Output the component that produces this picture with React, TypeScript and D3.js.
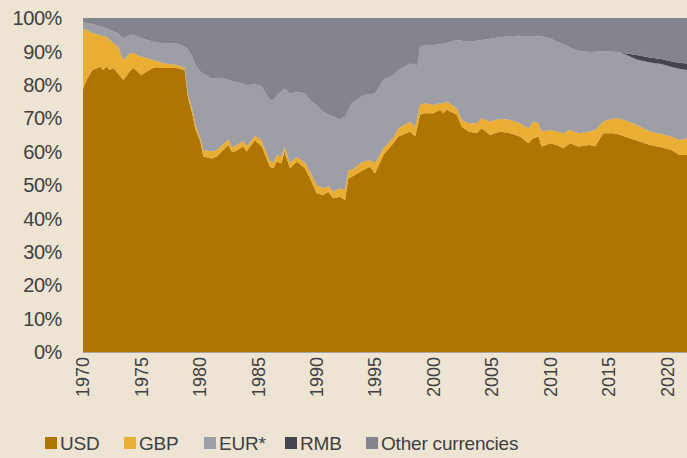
import React from "react";
import * as d3 from "d3";

// share of reserves by currency (percent)
const years = [
  1970.0, 1970.3, 1970.8, 1971.5, 1971.7, 1972.0, 1972.3, 1972.6, 1973.0, 1973.45,
  1974.0, 1974.3, 1975.0, 1975.45, 1976.0, 1977.0, 1978.0, 1978.7, 1979.0, 1979.35,
  1979.6, 1980.05, 1980.3, 1981.0, 1981.45, 1982.0, 1982.45, 1982.73, 1983.0, 1983.73,
  1984.0, 1984.73, 1985.0, 1985.3, 1986.0, 1986.3, 1986.58, 1987.0, 1987.24, 1987.72,
  1988.3, 1989.0, 1989.43, 1990.0, 1990.57, 1991.0, 1991.43, 1992.0, 1992.43, 1992.72,
  1993.0, 1994.0, 1994.57, 1995.0, 1995.71, 1996.57, 1997.0, 1998.0, 1998.43, 1998.6,
  1998.85, 1999.28, 2000.0, 2000.57, 2000.85, 2001.14, 2002.0, 2002.42, 2003.0, 2003.7,
  2004.13, 2004.85, 2005.7, 2006.56, 2007.41, 2008.13, 2008.55, 2009.0, 2009.27, 2010.0,
  2010.55, 2011.12, 2011.7, 2012.4, 2013.4, 2013.84, 2014.55, 2015.4, 2016.03, 2016.55,
  2017.4, 2018.54, 2019.5, 2020.4, 2021.03, 2021.71,
];

const usd = [
  78.7, 81.4, 84.4, 85.4, 84.4, 85.4, 84.4, 85.0, 83.4, 81.4,
  84.0, 85.0, 82.9, 84.0, 85.0, 85.0, 85.0, 84.4, 76.0, 71.5,
  67.0, 63.0, 58.5, 57.9, 58.5, 60.5, 62.0, 60.0, 60.0, 61.5,
  60.0, 63.5, 62.5, 61.5, 55.5, 55.0, 57.0, 56.5, 60.0, 55.0,
  57.0, 55.0, 52.0, 47.5, 47.0, 48.0, 46.0, 46.5, 45.5, 52.0,
  52.5, 54.5, 55.5, 53.5, 59.0, 62.5, 64.5, 66.0, 64.5, 67.0,
  71.0, 71.5, 71.5, 72.5, 71.5, 72.5, 71.0, 67.5, 66.0, 65.5,
  67.0, 65.0, 66.0, 65.5, 64.5, 62.5, 64.0, 64.5, 61.5, 62.5,
  62.0, 61.0, 62.5, 61.5, 62.0, 61.5, 65.5, 65.5, 65.0, 64.3,
  63.3, 62.0, 61.3, 60.5, 59.0, 59.0,
];

const gbp = [
  18.0, 15.1, 11.1, 9.4, 10.2, 9.0, 9.1, 7.5, 8.0, 6.0,
  5.4, 4.6, 5.5, 4.0, 2.4, 1.4, 1.0, 0.7, 1.0, 1.2,
  1.5, 1.0, 2.0, 2.1, 2.0, 1.7, 1.7, 1.2, 1.7, 1.7,
  1.7, 1.2, 1.7, 1.7, 1.7, 1.7, 2.0, 2.0, 1.4, 1.7,
  1.4, 1.7, 2.0, 2.5, 2.0, 1.7, 2.0, 2.5, 3.0, 2.5,
  2.0, 2.5, 1.9, 3.0, 2.0, 1.7, 2.5, 3.0, 2.7, 3.0,
  3.0, 3.0, 2.5, 2.0, 3.0, 2.5, 2.0, 2.0, 2.5, 3.0,
  3.0, 4.0, 3.8, 4.0, 4.0, 4.5, 5.0, 4.0, 4.5, 4.0,
  4.0, 4.5, 4.0, 4.0, 4.0, 5.0, 3.5, 4.5, 4.8, 4.9,
  4.7, 4.0, 4.0, 4.0, 4.5, 5.0,
];

const eur = [
  2.0, 2.0, 2.7, 2.7, 2.7, 2.5, 3.0, 3.5, 4.0, 6.5,
  5.5, 5.4, 5.5, 5.5, 5.5, 6.0, 6.4, 6.3, 13.5, 15.8,
  17.5, 20.0, 22.9, 21.9, 21.5, 19.7, 17.8, 20.0, 19.2, 17.1,
  18.2, 15.5, 15.7, 16.3, 18.2, 18.5, 17.9, 19.5, 17.5, 20.7,
  19.5, 20.7, 21.4, 23.9, 22.9, 21.5, 22.4, 20.6, 22.0, 18.0,
  20.0, 19.9, 19.8, 20.9, 20.4, 18.7, 17.4, 17.4, 18.8, 15.4,
  17.4, 17.4, 17.9, 17.7, 17.8, 17.5, 20.4, 23.7, 24.4, 24.7,
  23.4, 24.8, 24.4, 25.0, 26.2, 27.4, 25.6, 26.2, 28.5, 27.4,
  27.0, 26.7, 24.7, 24.7, 23.8, 23.4, 21.1, 20.0, 19.8, 19.7,
  19.6, 20.7, 20.9, 20.8, 21.3, 20.4,
];

const rmb = [
  0, 0, 0, 0, 0, 0, 0, 0, 0, 0,
  0, 0, 0, 0, 0, 0, 0, 0, 0, 0,
  0, 0, 0, 0, 0, 0, 0, 0, 0, 0,
  0, 0, 0, 0, 0, 0, 0, 0, 0, 0,
  0, 0, 0, 0, 0, 0, 0, 0, 0, 0,
  0, 0, 0, 0, 0, 0, 0, 0, 0, 0,
  0, 0, 0, 0, 0, 0, 0, 0, 0, 0,
  0, 0, 0, 0, 0, 0, 0, 0, 0, 0,
  0, 0, 0, 0, 0, 0, 0, 0, 0, 0.5,
  1.3, 1.5, 1.5, 1.7, 1.8, 2.0,
];

const other = [
  1.3, 1.5, 1.8, 2.5, 2.7, 3.1, 3.5, 4.0, 4.6, 6.1,
  5.1, 5.0, 6.1, 6.5, 7.1, 7.6, 7.6, 8.6, 9.5, 11.5,
  14.0, 16.0, 16.6, 18.1, 18.0, 18.1, 18.5, 18.8, 19.1, 19.7,
  20.1, 19.8, 20.1, 20.5, 24.6, 24.8, 23.1, 22.0, 21.1, 22.6,
  22.1, 22.6, 24.6, 26.1, 28.1, 28.8, 29.6, 30.4, 29.5, 27.5,
  25.5, 23.1, 22.8, 22.6, 18.6, 17.1, 15.6, 13.6, 14.0, 14.6,
  8.6, 8.1, 8.1, 7.8, 7.7, 7.5, 6.6, 6.8, 7.1, 6.8,
  6.6, 6.2, 5.8, 5.5, 5.3, 5.6, 5.4, 5.3, 5.5, 6.1,
  7.0, 7.8, 8.8, 9.8, 10.2, 10.1, 9.9, 10.0, 10.4, 10.6,
  11.1, 11.8, 12.3, 13.0, 13.4, 13.6,
];

const keys = ["usd", "gbp", "eur", "rmb", "other"];
const legendLabels = ["USD", "GBP", "EUR*", "RMB", "Other currencies"];
const colors = ["#b07500", "#ebae35", "#9e9ea6", "#45454d", "#84848e"];
const yTicks = [0, 10, 20, 30, 40, 50, 60, 70, 80, 90, 100];
const xTicks = [1970, 1975, 1980, 1985, 1990, 1995, 2000, 2005, 2010, 2015, 2020];

export default function App() {
  const width = 687;
  const height = 458;
  const margin = { top: 18, right: 0, bottom: 106, left: 83 };

  const rows = years.map((year, i) => ({
    year,
    usd: usd[i],
    gbp: gbp[i],
    eur: eur[i],
    rmb: rmb[i],
    other: other[i],
  }));

  const series = d3.stack().keys(keys)(rows as any);

  const xScale = d3
    .scaleLinear()
    .domain([1970, years[years.length - 1]])
    .range([margin.left, width - margin.right]);

  const yScale = d3
    .scaleLinear()
    .domain([0, 100])
    .range([height - margin.bottom, margin.top]);

  const area = d3
    .area<any>()
    .x((d) => xScale(d.data.year))
    .y0((d) => yScale(d[0]))
    .y1((d) => yScale(d[1]));

  const font = "'Liberation Sans', Arial, sans-serif";
  const textColor = "#404040";

  // legend layout: square then label, items laid out left to right
  const legendX = [45, 124, 204, 285, 366];
  const legendY = 443;

  return (
    <div style={{ position: "fixed", left: 0, top: 0 }}>
      <svg width={width} height={height} style={{ display: "block" }}>
        <rect x={0} y={0} width={width} height={height} fill="#ede4d4" />

        {/* stacked areas */}
        {series.map((s, i) => (
          <path key={keys[i]} d={area(s as any) || ""} fill={colors[i]} />
        ))}

        {/* baseline */}
        <line
          x1={margin.left}
          x2={width - margin.right}
          y1={yScale(0) + 0.5}
          y2={yScale(0) + 0.5}
          stroke="#a9a49c"
          strokeWidth={1}
        />

        {/* Y-axis labels */}
        {yTicks.map((t) => (
          <text
            key={t}
            x={62}
            y={yScale(t)}
            dy="0.36em"
            textAnchor="end"
            fontFamily={font}
            fontSize={20}
            fill={textColor}
            letterSpacing={-0.4}
          >
            {t}%
          </text>
        ))}

        {/* X-axis labels */}
        {xTicks.map((t) => (
          <text
            key={t}
            transform={`translate(${xScale(t)}, ${yScale(0) + 5}) rotate(-90)`}
            dy="0.36em"
            textAnchor="end"
            fontFamily={font}
            fontSize={18}
            fill={textColor}
          >
            {t}
          </text>
        ))}

        {/* legend */}
        {legendLabels.map((label, i) => (
          <g key={label} transform={`translate(${legendX[i]}, ${legendY})`}>
            <rect x={0} y={-6} width={12} height={12} fill={colors[i]} />
            <text
              x={15}
              y={0}
              dy="0.36em"
              fontFamily={font}
              fontSize={19}
              fill={textColor}
              letterSpacing={-0.2}
            >
              {label}
            </text>
          </g>
        ))}
      </svg>
    </div>
  );
}
